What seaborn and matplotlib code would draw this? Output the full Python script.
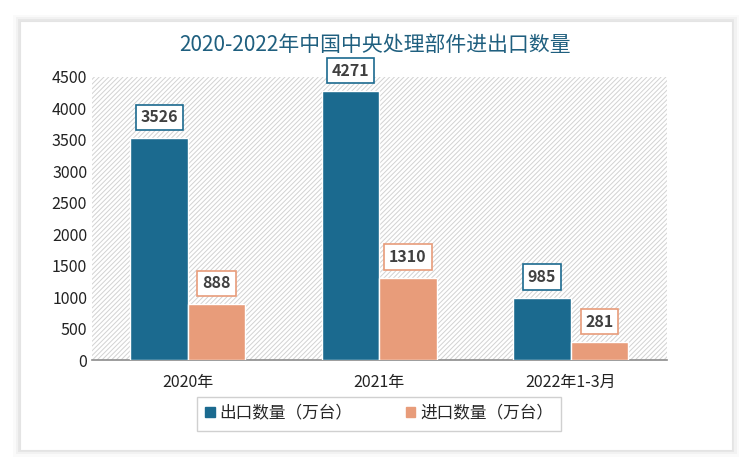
import matplotlib.pyplot as plt
import matplotlib.patches as mpatches
import seaborn as sns
import pandas as pd

categories = ['2020年', '2021年', '2022年1-3月']
export_vals = [3526, 4271, 985]
import_vals = [888, 1310, 281]
series_names = ['出口数量（万台）', '进口数量（万台）']
colors = ['#1B6A8F', '#E89C7A']

df = pd.DataFrame({
    'cat': categories * 2,
    'val': export_vals + import_vals,
    'series': [series_names[0]] * 3 + [series_names[1]] * 3,
})

sns.set_style('white')
plt.rcParams['font.family'] = ['Noto Sans CJK SC', 'DejaVu Sans']
plt.rcParams['hatch.color'] = '#d2d2d2'
plt.rcParams['hatch.linewidth'] = 0.7

fig = plt.figure(figsize=(7.5, 4.61), dpi=100)

# card with soft shadow
for i, a in enumerate([0.02, 0.03, 0.045]):
    d = (3 - i) * 0.003
    fig.patches.append(mpatches.Rectangle((0.027 - d, 0.024 - d * 1.6), 0.949 + 2 * d, 0.93 + 2 * d * 1.6,
                                          transform=fig.transFigure, facecolor='black', alpha=a,
                                          edgecolor='none', zorder=0))
fig.patches.append(mpatches.Rectangle((0.027, 0.024), 0.949, 0.93, transform=fig.transFigure,
                                      facecolor='white', edgecolor='#e4e4e4', lw=0.8, zorder=1))

ax = fig.add_axes([0.1227, 0.219, 0.766, 0.614])
ax.set_zorder(2)
ax.patch.set_alpha(0)

sns.barplot(data=df, x='cat', y='val', hue='series', palette=colors, width=0.6, saturation=1,
            edgecolor='white', linewidth=1, ax=ax, legend=True, zorder=3)

ax.add_patch(mpatches.Rectangle((0, 0), 1, 1, transform=ax.transAxes, facecolor='white',
                                hatch='///////', edgecolor='#d2d2d2', lw=0, zorder=0))

ax.set_ylim(0, 4500)
ax.set_xlim(-0.5, 2.5)
ax.set_yticks(range(0, 4501, 500))
ax.tick_params(axis='both', length=0, labelsize=11.5, colors='#222222')
ax.tick_params(axis='x', pad=10)
ax.set_xlabel('')
ax.set_ylabel('')
for s in ['top', 'right', 'left']:
    ax.spines[s].set_visible(False)
ax.spines['bottom'].set_color('#8c8c8c')
ax.spines['bottom'].set_linewidth(1.2)

for cont, col in zip(ax.containers, colors):
    for bar in cont:
        h = bar.get_height()
        ax.annotate(f'{int(h)}', (bar.get_x() + bar.get_width() / 2, h), xytext=(0, 15),
                    textcoords='offset points', ha='center', va='center', fontsize=11.5,
                    fontweight='bold', color='#404040', zorder=5,
                    bbox=dict(boxstyle='square,pad=0.3', facecolor='white', edgecolor=col, lw=1.2))

handles = [mpatches.Patch(color=c) for c in colors]
ax.legend(handles, series_names, loc='upper center', bbox_to_anchor=(0.5, -0.13), ncol=2,
          frameon=True, fancybox=False, edgecolor='#d0d0d0', fontsize=12, handlelength=0.55,
          handleheight=0.55, handletextpad=0.3, columnspacing=3.2, borderpad=0.5,
          borderaxespad=0, framealpha=1)

fig.text(0.5, 0.903, '2020-2022年中国中央处理部件进出口数量', ha='center', va='center',
         fontsize=15, fontweight='medium', color='#1F5F7F')

fig.savefig('out.png', dpi=100)
